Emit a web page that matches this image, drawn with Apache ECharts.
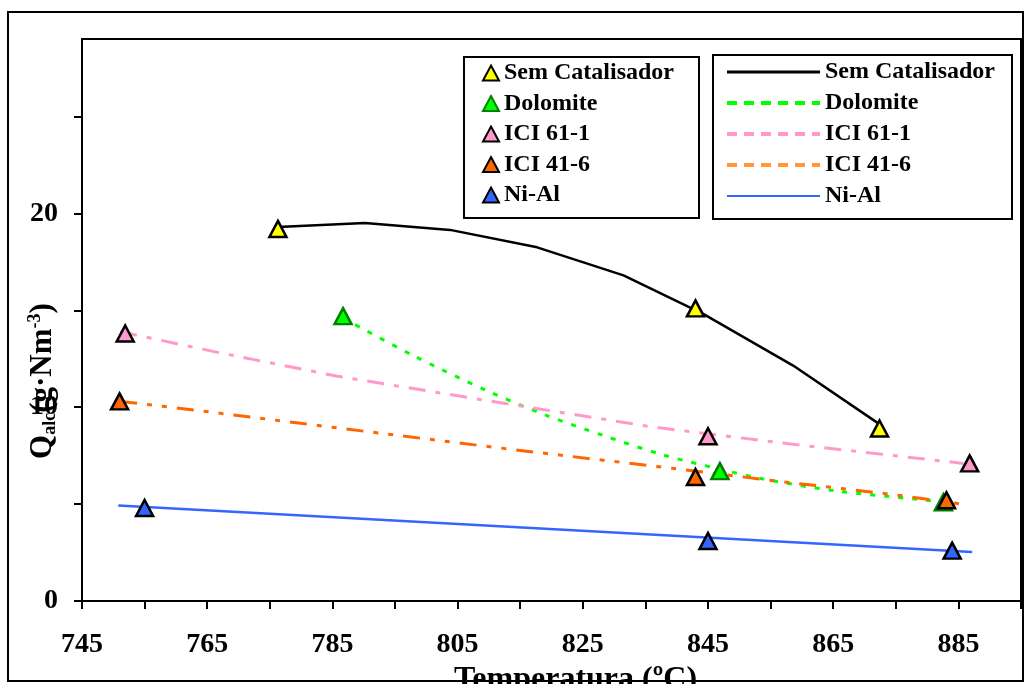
<!DOCTYPE html>
<html>
<head>
<meta charset="utf-8">
<script src="https://cdn.jsdelivr.net/npm/echarts@6/dist/echarts.min.js"></script>
<style>
  body{ margin:0; background:#fff; }
  #chart{ width:1033px; height:684px; }
</style>
</head>
<body>
<div id="chart"></div>
<script>
  // pontos experimentais (triângulos)
  const semCatX = [776.3, 843.0, 872.4];
  const semCatY = [19.2, 15.1, 8.9];
  const dolomiteX = [786.7, 846.9, 882.6];
  const dolomiteY = [14.7, 6.7, 5.1];
  const ici61X = [751.9, 845.0, 886.8];
  const ici61Y = [13.8, 8.5, 7.1];
  const ici41X = [751.0, 843.0, 883.1];
  const ici41Y = [10.3, 6.4, 5.2];
  const niAlX = [755.0, 845.0, 884.0];
  const niAlY = [4.8, 3.1, 2.6];

  // linhas de tendência
  const semCatFitX = [776.3, 790.2, 803.8, 817.7, 831.5, 844.3, 858.6, 872.5];
  const semCatFitY = [19.3, 19.5, 19.15, 18.25, 16.8, 14.8, 12.15, 9.1];
  const dolomiteFitX = [786.7, 797.7, 809.7, 819.0, 828.2, 837.7, 846.9, 853.8, 865.0, 878.4, 883.0];
  const dolomiteFitY = [14.6, 12.7, 10.85, 9.6, 8.55, 7.55, 6.8, 6.3, 5.7, 5.25, 5.1];
  const ici61FitX = [751.1, 767.1, 785.8, 808.6, 835.7, 858.2, 885.8];
  const ici61FitY = [13.9, 12.8, 11.6, 10.4, 9.0, 8.1, 7.1];
  const ici41FitX = [751.1, 761.8, 786.6, 809.1, 827.3, 840.6, 855.7, 874.4, 885.6];
  const ici41FitY = [10.3, 9.9, 8.9, 8.0, 7.3, 6.8, 6.2, 5.5, 5.0];
  const niAlFitX = [750.8, 887.2];
  const niAlFitY = [4.93, 2.53];

  // eixos
  const yTicks = [0, 5, 10, 15, 20, 25];
  const yLabels = [0, 10, 20];
  const xLabels = [745, 765, 785, 805, 825, 845, 865, 885];

  const names = ['Sem Catalisador', 'Dolomite', 'ICI 61-1', 'ICI 41-6', 'Ni-Al'];
  const FIT = ' (ajuste)';
  const font = 'Liberation Serif';

  function zip(xs, ys){
    let res = [];
    xs.forEach((v, i) => { res.push([v, ys[i]]); });
    return res;
  }

  function pontos(name, xs, ys, fill, border){
    return {
      name: name,
      type: 'scatter',
      symbol: 'triangle',
      symbolSize: [17, 16],
      z: 5,
      itemStyle: { color: fill, borderColor: border || '#000', borderWidth: 2.5, opacity: 1 },
      data: zip(xs, ys)
    };
  }

  function linha(name, xs, ys, color, type, width, smooth){
    return {
      name: name + FIT,
      type: 'line',
      symbol: 'none',
      smooth: smooth || false,
      z: 3,
      lineStyle: { color: color, type: type, width: width },
      itemStyle: { color: color },
      data: zip(xs, ys)
    };
  }

  const legendText = { fontFamily: font, fontWeight: 'bold', fontSize: 24, color: '#000', lineHeight: 24 };
  const legendDash = { type: [10, 7], width: 4 };
  const noDot = { opacity: 0, borderWidth: 0 };

  let chart = echarts.init(document.getElementById('chart'));
  chart.setOption({
    animation: false,
    backgroundColor: '#fff',
    grid: {
      left: 82, top: 39, width: 939, height: 562,
      outerBoundsMode: 'none', containLabel: false,
      show: true, borderColor: '#000', borderWidth: 2
    },
    xAxis: {
      type: 'value', min: 745, max: 895, interval: 10,
      name: 'Temperatura (ºC)', nameLocation: 'middle', nameGap: 58,
      nameTextStyle: { fontFamily: font, fontWeight: 'bold', fontSize: 32, color: '#000', padding: [0, 0, 0, 48] },
      axisLine: { lineStyle: { color: '#000', width: 2 } },
      axisTick: { show: true, length: 8, lineStyle: { color: '#000', width: 2 } },
      axisLabel: {
        margin: 30, fontFamily: font, fontWeight: 'bold', fontSize: 28, color: '#000',
        formatter: v => xLabels.indexOf(v) >= 0 ? String(v) : ''
      },
      splitLine: { show: false }
    },
    yAxis: {
      type: 'value', min: 0, max: 29, interval: 5,
      axisLine: { show: true, lineStyle: { color: '#000', width: 2 } },
      axisTick: { show: true, length: 8, customValues: yTicks, lineStyle: { color: '#000', width: 2 } },
      axisLabel: { margin: 24, customValues: yLabels, fontFamily: font, fontWeight: 'bold', fontSize: 28, color: '#000' },
      splitLine: { show: false }
    },
    legend: [
      {
        // legenda dos pontos
        orient: 'vertical', left: 464, top: 57,
        selectedMode: false,
        data: names,
        itemWidth: 16, itemHeight: 15, itemGap: 6.5,
        padding: [4, 25, 11, 18],
        borderColor: '#000', borderWidth: 2, backgroundColor: '#fff',
        textStyle: legendText
      },
      {
        // legenda das linhas
        orient: 'vertical', left: 713, top: 55,
        selectedMode: false,
        data: [
          { name: names[0] + FIT, itemStyle: noDot, lineStyle: { width: 3 } },
          { name: names[1] + FIT, itemStyle: noDot, lineStyle: legendDash },
          { name: names[2] + FIT, itemStyle: noDot, lineStyle: legendDash },
          { name: names[3] + FIT, itemStyle: noDot, lineStyle: { type: [10, 7], width: 4, color: '#FF9933' } },
          { name: names[4] + FIT, itemStyle: noDot }
        ],
        formatter: n => n.replace(FIT, ''),
        itemWidth: 93, itemHeight: 14, itemGap: 7,
        padding: [5, 17, 11, 12],
        borderColor: '#000', borderWidth: 2, backgroundColor: '#fff',
        textStyle: legendText
      }
    ],
    graphic: [
      {
        type: 'rect', silent: true, z: 100,
        shape: { x: 8, y: 12, width: 1015, height: 669 },
        style: { fill: 'none', stroke: '#000', lineWidth: 2 }
      },
      {
        // título do eixo y com índices
        type: 'text', x: 43, y: 381, rotation: Math.PI / 2, z: 50,
        style: {
          text: '{q|Q}{s|alc}{q|(g·Nm}{p|-3}{q|)}',
          align: 'center', verticalAlign: 'middle',
          rich: {
            q: { fontFamily: font, fontWeight: 'bold', fontSize: 31, fill: '#000', color: '#000' },
            s: { fontFamily: font, fontWeight: 'bold', fontSize: 18, fill: '#000', color: '#000', padding: [14, 0, 0, 0] },
            p: { fontFamily: font, fontWeight: 'bold', fontSize: 18, fill: '#000', color: '#000', padding: [0, 0, 16, 0] }
          }
        }
      }
    ],
    series: [
      linha(names[0], semCatFitX, semCatFitY, '#000000', 'solid', 2.5),
      linha(names[1], dolomiteFitX, dolomiteFitY, '#00FF00', [5, 9], 3, 0.3),
      linha(names[2], ici61FitX, ici61FitY, '#FF99CC', [17, 10, 5, 10], 3),
      linha(names[3], ici41FitX, ici41FitY, '#FF6600', [17, 10, 5, 10, 5, 10], 3),
      linha(names[4], niAlFitX, niAlFitY, '#3366FF', 'solid', 2.5),
      pontos(names[0], semCatX, semCatY, '#FFFF00'),
      pontos(names[1], dolomiteX, dolomiteY, '#00FF00', '#008000'),
      pontos(names[2], ici61X, ici61Y, '#FF99CC'),
      pontos(names[3], ici41X, ici41Y, '#FF6600'),
      pontos(names[4], niAlX, niAlY, '#3366FF')
    ]
  });
</script>
</body>
</html>
